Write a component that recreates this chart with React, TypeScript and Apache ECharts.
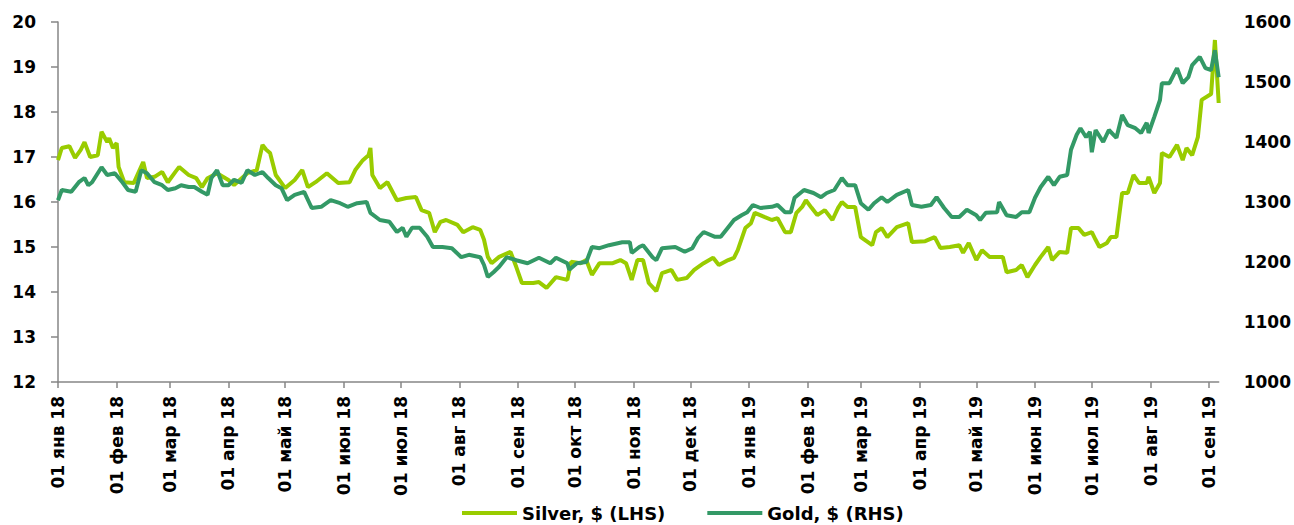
import React, { useEffect, useRef } from "react";
import * as echarts from "echarts";

const monthTicks = [
  "2018-01-01", "2018-02-01", "2018-03-01", "2018-04-01", "2018-05-01", "2018-06-01", "2018-07-01",
  "2018-08-01", "2018-09-01", "2018-10-01", "2018-11-01", "2018-12-01", "2019-01-01", "2019-02-01",
  "2019-03-01", "2019-04-01", "2019-05-01", "2019-06-01", "2019-07-01", "2019-08-01", "2019-09-01",
];
const monthNames = ["янв", "фев", "мар", "апр", "май", "июн", "июл", "авг", "сен", "окт", "ноя", "дек"];
const axisStart = "2018-01-01";
const axisEnd = "2019-09-06";

const silverDates = [
  "2018-01-01", "2018-01-03", "2018-01-07", "2018-01-10", "2018-01-13", "2018-01-15", "2018-01-18", "2018-01-22",
  "2018-01-24", "2018-01-27", "2018-01-28", "2018-01-30", "2018-02-01", "2018-02-02", "2018-02-05", "2018-02-10",
  "2018-02-15", "2018-02-17", "2018-02-21", "2018-02-25", "2018-02-28", "2018-03-04", "2018-03-06", "2018-03-11",
  "2018-03-15", "2018-03-18", "2018-03-21", "2018-03-26", "2018-04-01", "2018-04-04", "2018-04-08", "2018-04-11",
  "2018-04-16", "2018-04-19", "2018-04-21", "2018-04-23", "2018-04-26", "2018-05-01", "2018-05-06", "2018-05-10",
  "2018-05-13", "2018-05-17", "2018-05-23", "2018-05-29", "2018-06-04", "2018-06-07", "2018-06-11", "2018-06-14",
  "2018-06-15", "2018-06-16", "2018-06-20", "2018-06-24", "2018-06-29", "2018-07-04", "2018-07-09", "2018-07-12",
  "2018-07-16", "2018-07-19", "2018-07-22", "2018-07-25", "2018-07-31", "2018-08-03", "2018-08-08", "2018-08-12",
  "2018-08-14", "2018-08-16", "2018-08-18", "2018-08-22", "2018-08-28", "2018-08-31", "2018-09-03", "2018-09-09",
  "2018-09-12", "2018-09-16", "2018-09-21", "2018-09-27", "2018-09-29", "2018-10-04", "2018-10-07", "2018-10-10",
  "2018-10-14", "2018-10-21", "2018-10-25", "2018-10-28", "2018-10-31", "2018-11-03", "2018-11-06", "2018-11-09",
  "2018-11-13", "2018-11-16", "2018-11-21", "2018-11-24", "2018-11-29", "2018-12-03", "2018-12-08", "2018-12-13",
  "2018-12-16", "2018-12-21", "2018-12-24", "2018-12-26", "2018-12-30", "2019-01-02", "2019-01-04", "2019-01-09",
  "2019-01-13", "2019-01-16", "2019-01-20", "2019-01-23", "2019-01-26", "2019-01-29", "2019-01-31", "2019-02-03",
  "2019-02-06", "2019-02-10", "2019-02-14", "2019-02-17", "2019-02-19", "2019-02-22", "2019-02-26", "2019-03-01",
  "2019-03-07", "2019-03-09", "2019-03-12", "2019-03-15", "2019-03-20", "2019-03-26", "2019-03-28", "2019-04-04",
  "2019-04-09", "2019-04-12", "2019-04-17", "2019-04-22", "2019-04-24", "2019-04-27", "2019-05-01", "2019-05-04",
  "2019-05-08", "2019-05-15", "2019-05-17", "2019-05-22", "2019-05-25", "2019-05-28", "2019-06-01", "2019-06-04",
  "2019-06-08", "2019-06-10", "2019-06-14", "2019-06-18", "2019-06-20", "2019-06-24", "2019-06-27", "2019-07-01",
  "2019-07-03", "2019-07-05", "2019-07-09", "2019-07-11", "2019-07-14", "2019-07-17", "2019-07-20", "2019-07-23",
  "2019-07-26", "2019-07-30", "2019-07-31", "2019-08-03", "2019-08-06", "2019-08-07", "2019-08-11", "2019-08-15",
  "2019-08-18", "2019-08-20", "2019-08-23", "2019-08-26", "2019-08-28", "2019-09-02", "2019-09-04", "2019-09-06",
];
const silverValues = [
  16.93, 17.2, 17.24, 16.98, 17.16, 17.33, 17.0, 17.04,
  17.56, 17.33, 17.42, 17.2, 17.31, 16.78, 16.44, 16.42,
  16.89, 16.53, 16.56, 16.67, 16.44, 16.67, 16.78, 16.6,
  16.53, 16.33, 16.53, 16.64, 16.49, 16.38, 16.53, 16.64,
  16.71, 17.27, 17.16, 17.09, 16.6, 16.31, 16.49, 16.71,
  16.33, 16.44, 16.64, 16.42, 16.44, 16.71, 16.93, 17.04,
  17.2, 16.6, 16.31, 16.44, 16.04, 16.09, 16.11, 15.82,
  15.76, 15.33, 15.56, 15.6, 15.49, 15.33, 15.44, 15.38,
  15.16, 14.78, 14.64, 14.78, 14.89, 14.56, 14.2, 14.2,
  14.22, 14.09, 14.33, 14.27, 14.67, 14.64, 14.71, 14.38,
  14.64, 14.64, 14.71, 14.64, 14.27, 14.71, 14.71, 14.2,
  14.02, 14.42, 14.49, 14.27, 14.31, 14.49, 14.64, 14.76,
  14.6, 14.71, 14.76, 14.93, 15.42, 15.53, 15.76, 15.67,
  15.6, 15.64, 15.33, 15.33, 15.76, 15.89, 16.04, 15.87,
  15.71, 15.82, 15.6, 15.87, 16.0, 15.89, 15.89, 15.22,
  15.04, 15.33, 15.42, 15.22, 15.44, 15.53, 15.11, 15.13,
  15.22, 14.98, 15.0, 15.04, 14.87, 15.09, 14.71, 14.93,
  14.78, 14.78, 14.44, 14.49, 14.6, 14.33, 14.6, 14.78,
  15.0, 14.71, 14.89, 14.87, 15.42, 15.42, 15.27, 15.33,
  15.16, 15.0, 15.09, 15.22, 15.22, 16.2, 16.2, 16.6,
  16.42, 16.42, 16.56, 16.2, 16.42, 17.09, 17.0, 17.27,
  16.93, 17.2, 17.04, 17.44, 18.27, 18.4, 19.6, 18.2,
];

const goldDates = [
  "2018-01-01", "2018-01-03", "2018-01-08", "2018-01-12", "2018-01-15", "2018-01-17", "2018-01-19", "2018-01-24",
  "2018-01-27", "2018-01-31", "2018-02-04", "2018-02-07", "2018-02-11", "2018-02-14", "2018-02-17", "2018-02-21",
  "2018-02-25", "2018-02-28", "2018-03-04", "2018-03-07", "2018-03-11", "2018-03-14", "2018-03-18", "2018-03-21",
  "2018-03-23", "2018-03-26", "2018-03-29", "2018-04-01", "2018-04-04", "2018-04-08", "2018-04-11", "2018-04-15",
  "2018-04-19", "2018-04-22", "2018-04-26", "2018-04-29", "2018-05-02", "2018-05-06", "2018-05-11", "2018-05-15",
  "2018-05-20", "2018-05-25", "2018-05-30", "2018-06-03", "2018-06-08", "2018-06-13", "2018-06-15", "2018-06-20",
  "2018-06-25", "2018-06-29", "2018-07-02", "2018-07-04", "2018-07-07", "2018-07-11", "2018-07-15", "2018-07-18",
  "2018-07-23", "2018-07-28", "2018-08-02", "2018-08-06", "2018-08-12", "2018-08-14", "2018-08-16", "2018-08-19",
  "2018-08-22", "2018-08-26", "2018-08-31", "2018-09-06", "2018-09-12", "2018-09-18", "2018-09-21", "2018-09-27",
  "2018-09-28", "2018-10-02", "2018-10-07", "2018-10-10", "2018-10-14", "2018-10-19", "2018-10-26", "2018-10-30",
  "2018-10-31", "2018-11-04", "2018-11-06", "2018-11-11", "2018-11-13", "2018-11-16", "2018-11-23", "2018-11-28",
  "2018-12-02", "2018-12-05", "2018-12-08", "2018-12-14", "2018-12-17", "2018-12-21", "2018-12-24", "2018-12-28",
  "2018-12-31", "2019-01-03", "2019-01-07", "2019-01-13", "2019-01-16", "2019-01-20", "2019-01-23", "2019-01-25",
  "2019-01-30", "2019-02-04", "2019-02-08", "2019-02-11", "2019-02-15", "2019-02-19", "2019-02-22", "2019-02-26",
  "2019-03-01", "2019-03-05", "2019-03-08", "2019-03-12", "2019-03-15", "2019-03-20", "2019-03-26", "2019-03-28",
  "2019-04-02", "2019-04-07", "2019-04-10", "2019-04-14", "2019-04-18", "2019-04-22", "2019-04-26", "2019-05-01",
  "2019-05-03", "2019-05-06", "2019-05-12", "2019-05-13", "2019-05-17", "2019-05-22", "2019-05-25", "2019-05-29",
  "2019-06-01", "2019-06-04", "2019-06-08", "2019-06-11", "2019-06-14", "2019-06-18", "2019-06-20", "2019-06-23",
  "2019-06-25", "2019-06-28", "2019-06-30", "2019-07-01", "2019-07-03", "2019-07-07", "2019-07-10", "2019-07-14",
  "2019-07-17", "2019-07-20", "2019-07-24", "2019-07-27", "2019-07-30", "2019-07-31", "2019-08-03", "2019-08-06",
  "2019-08-07", "2019-08-11", "2019-08-15", "2019-08-18", "2019-08-21", "2019-08-23", "2019-08-27", "2019-08-30",
  "2019-09-02", "2019-09-04", "2019-09-06",
];
const goldValues = [
  1303, 1320, 1317, 1333, 1340, 1328, 1333, 1358,
  1345, 1348, 1333, 1320, 1317, 1353, 1348, 1333,
  1328, 1320, 1323, 1328, 1325, 1325, 1317, 1312,
  1340, 1353, 1328, 1328, 1337, 1332, 1353, 1345,
  1350, 1340, 1328, 1323, 1303, 1312, 1317, 1290,
  1292, 1303, 1298, 1292, 1298, 1300, 1282, 1270,
  1267, 1250, 1257, 1242, 1257, 1257, 1242, 1225,
  1225, 1223, 1208, 1212, 1208, 1195, 1175, 1183,
  1192, 1208, 1203, 1198, 1207, 1198, 1207, 1198,
  1187, 1198, 1200, 1225, 1223, 1228, 1233, 1233,
  1215, 1225, 1228, 1208, 1203, 1223, 1225, 1217,
  1223, 1240, 1250, 1242, 1242, 1258, 1270, 1278,
  1283, 1295, 1290, 1292, 1295, 1283, 1283, 1307,
  1320, 1315, 1308, 1315, 1320, 1340, 1328, 1328,
  1298, 1287, 1298, 1308, 1300, 1312, 1320, 1295,
  1292, 1295, 1308, 1290, 1275, 1275, 1287, 1278,
  1270, 1282, 1283, 1300, 1278, 1275, 1283, 1283,
  1307, 1325, 1342, 1328, 1342, 1345, 1387, 1412,
  1423, 1408, 1417, 1383, 1420, 1400, 1420, 1407,
  1445, 1428, 1423, 1415, 1432, 1415, 1442, 1470,
  1498, 1498, 1523, 1498, 1508, 1528, 1542, 1523,
  1520, 1553, 1508,
];

const FONT = "'DejaVu Sans', sans-serif";

function toTime(s: string): number {
  const [y, m, d] = s.split("-").map(Number);
  return Date.UTC(y, m - 1, d);
}

export default function App() {
  const ref = useRef<HTMLDivElement>(null);
  useEffect(() => {
    if (!ref.current) return;
    const chart = echarts.init(ref.current, undefined, { renderer: "svg" });
    const tickValues = monthTicks.map(toTime);
    const axisColor = "#868686";
    chart.setOption({
      animation: false,
      backgroundColor: "#ffffff",
      grid: { left: 58, right: 74, top: 22, bottom: 143, containLabel: false },
      legend: {
        left: 457,
        top: 499,
        itemWidth: 55,
        itemHeight: 4,
        itemGap: 42,
        icon: "rect",
        textStyle: { fontFamily: FONT, fontWeight: "bold", fontSize: 18, color: "#000" },
        data: ["Silver, $ (LHS)", "Gold, $ (RHS)"],
      },
      xAxis: {
        type: "value",
        min: toTime(axisStart),
        max: toTime(axisEnd),
        splitLine: { show: false },
        axisLine: { show: true, lineStyle: { color: axisColor, width: 1.5 } },
        axisTick: { show: true, length: 6, lineStyle: { color: axisColor, width: 1.5 }, customValues: tickValues },
        axisLabel: {
          customValues: tickValues,
          rotate: 90,
          margin: 14,
          hideOverlap: false,
          fontFamily: FONT,
          fontWeight: "bold",
          fontSize: 17,
          color: "#000",
          formatter: (v: number) => {
            const d = new Date(v);
            const yy = String(d.getUTCFullYear()).slice(2);
            return "01 " + monthNames[d.getUTCMonth()] + " " + yy;
          },
        },
      },
      yAxis: [
        {
          type: "value",
          min: 12,
          max: 20,
          interval: 1,
          splitLine: { show: false },
          axisLine: { show: true, lineStyle: { color: axisColor, width: 1.5 } },
          axisTick: { show: true, length: 7, lineStyle: { color: axisColor, width: 1.5 } },
          axisLabel: { margin: 22, fontFamily: FONT, fontWeight: "bold", fontSize: 17, color: "#000" },
        },
        {
          type: "value",
          min: 1000,
          max: 1600,
          interval: 100,
          position: "right",
          splitLine: { show: false },
          axisLine: { show: false },
          axisTick: { show: false },
          axisLabel: {
            margin: 25,
            fontFamily: FONT,
            fontWeight: "bold",
            fontSize: 17,
            color: "#000",
            formatter: (v: number) => String(v),
          },
        },
      ],
      series: [
        {
          name: "Silver, $ (LHS)",
          type: "line",
          yAxisIndex: 0,
          showSymbol: false,
          symbol: "none",
          lineStyle: { color: "#99cc00", width: 4 },
          itemStyle: { color: "#99cc00" },
          data: silverDates.map((d, i) => [toTime(d), silverValues[i]]),
        },
        {
          name: "Gold, $ (RHS)",
          type: "line",
          yAxisIndex: 1,
          showSymbol: false,
          symbol: "none",
          lineStyle: { color: "#339966", width: 4 },
          itemStyle: { color: "#339966" },
          data: goldDates.map((d, i) => [toTime(d), goldValues[i]]),
        },
      ],
    });
    return () => chart.dispose();
  }, []);
  return (
    <div
      ref={ref}
      style={{ position: "fixed", left: 0, top: 0, width: 1294, height: 525, background: "#fff" }}
    />
  );
}
